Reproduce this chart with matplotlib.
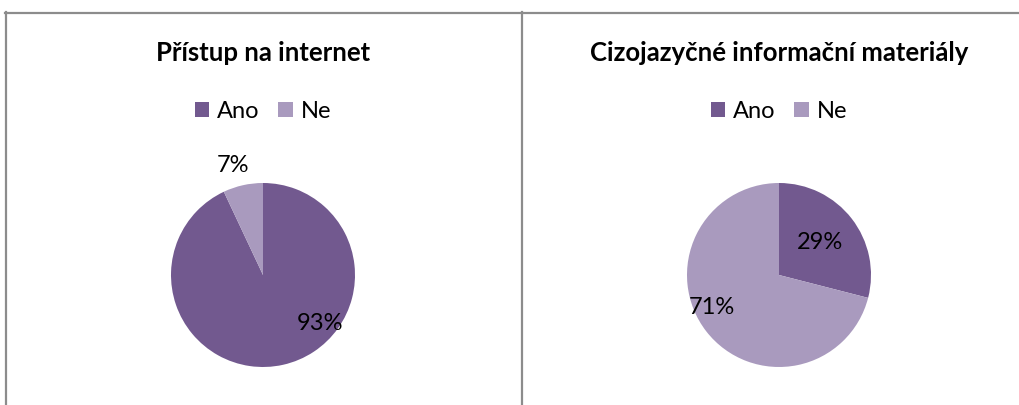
import matplotlib
matplotlib.use("Agg")
import matplotlib.pyplot as plt
from matplotlib.lines import Line2D
from matplotlib.patches import Patch

plt.rcParams['font.family'] = ['Lato', 'DejaVu Sans']

# data
categories = ['Ano', 'Ne']
titles = ['Přístup na internet', 'Cizojazyčné informační materiály']
internet = [93, 7]
materialy = [29, 71]
colors = ['#72598f', '#a99abe']

fig = plt.figure(figsize=(10.19, 4.05), dpi=100)
W, H = 1019, 405

# panel borders
border = '#8c8c8c'
fig.add_artist(Line2D([5 / W, 1], [1 - 12.5 / H, 1 - 12.5 / H], color=border, lw=1.6))
fig.add_artist(Line2D([5.5 / W, 5.5 / W], [0, 1 - 12 / H], color=border, lw=1.6))
fig.add_artist(Line2D([521.5 / W, 521.5 / W], [0, 1 - 12 / H], color=border, lw=1.6))

# label positions per wedge (Ano, Ne), in pie units (radius 1)
label_pos = [[(0.62, -0.53), (-0.33, 1.19)],
             [(0.45, 0.35), (-0.73, -0.35)]]

centers = [263, 779]
r = 92
for i, (vals, title, cx) in enumerate(zip([internet, materialy], titles, centers)):
    ax = fig.add_axes([(cx - r) / W, (H - 275 - r) / H, 2 * r / W, 2 * r / H])
    wedges, texts, autotexts = ax.pie(vals, colors=colors, startangle=90, counterclock=False,
                                      autopct='%d%%', textprops={'fontsize': 17, 'color': 'black'},
                                      wedgeprops={'linewidth': 0})
    for t, pos in zip(autotexts, label_pos[i]):
        t.set_position(pos)
    ax.set_xlim(-1, 1)
    ax.set_ylim(-1, 1)
    ax.set_aspect('equal')
    fig.text(cx / W, 1 - 53 / H, title, ha='center', va='center', fontsize=18.5, fontweight='bold')
    handles = [Patch(facecolor=c, edgecolor='none') for c in colors]
    fig.legend(handles, categories, loc='center', bbox_to_anchor=(cx / W, 1 - 111 / H), ncol=2,
               frameon=False, fontsize=17, handlelength=0.6, handleheight=0.6,
               handletextpad=0.35, columnspacing=0.8)

fig.savefig('out.png', dpi=100)
